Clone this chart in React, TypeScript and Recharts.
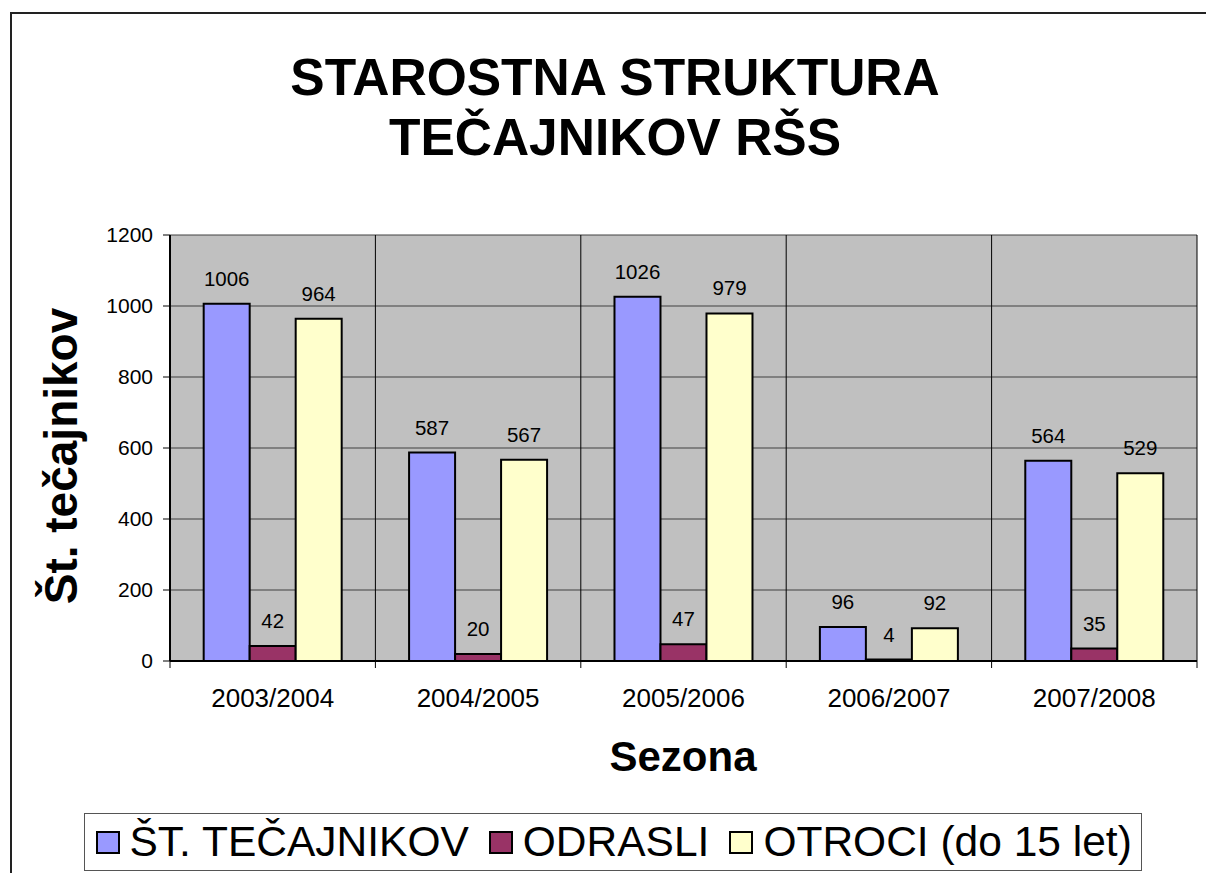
import { Bar, BarChart, CartesianGrid, LabelList, XAxis, YAxis } from "recharts";

const seasons = ["2003/2004", "2004/2005", "2005/2006", "2006/2007", "2007/2008"];
const totalTrainees = [1006, 587, 1026, 96, 564];
const adults = [42, 20, 47, 4, 35];
const children = [964, 567, 979, 92, 529];
const yTicks = [0, 200, 400, 600, 800, 1000, 1200];

const series = [
  { key: "total", name: "ŠT. TEČAJNIKOV", color: "#9999FF", values: totalTrainees },
  { key: "adults", name: "ODRASLI", color: "#993366", values: adults },
  { key: "children", name: "OTROCI (do 15 let)", color: "#FFFFCC", values: children },
];

const data = seasons.map((season, i) => {
  const row: Record<string, string | number> = { season };
  series.forEach((s) => (row[s.key] = s.values[i]));
  return row;
});

const FONT = "'Liberation Sans', Arial, sans-serif";
const W = 1206;
const H = 873;
const MARGIN = { top: 235, right: 9, bottom: 152, left: 110 };
const Y_AXIS_W = 60;
const X_TICK_SIZE = 7;
const X_TICK_GAP = 21;
const PLOT_W = W - MARGIN.left - MARGIN.right - Y_AXIS_W;

function SeasonTick(props: any) {
  const { x, y, payload, index, visibleTicksCount } = props;
  const count = visibleTicksCount || seasons.length;
  const band = (props.width || PLOT_W) / count;
  const axisY = y - X_TICK_SIZE - X_TICK_GAP;
  return (
    <g>
      <line x1={x - band / 2} x2={x - band / 2} y1={axisY} y2={axisY + X_TICK_SIZE} stroke="#000" />
      {index === count - 1 && (
        <line x1={x + band / 2} x2={x + band / 2} y1={axisY} y2={axisY + X_TICK_SIZE} stroke="#000" />
      )}
      <text x={x} y={y} dy="0.71em" textAnchor="middle" fontSize={26} fontFamily={FONT} fill="#000">
        {payload.value}
      </text>
    </g>
  );
}

export default function App() {
  return (
    <div
      style={{
        position: "absolute",
        left: 0,
        top: 0,
        width: W,
        height: H,
        overflow: "hidden",
        background: "#fff",
        fontFamily: FONT,
      }}
    >
      {/* outer chart frame, runs off the right and bottom edges */}
      <div
        style={{
          position: "absolute",
          left: 10,
          top: 12,
          width: 1400,
          height: 1000,
          border: "2px solid #222",
        }}
      />

      <BarChart
        width={W}
        height={H}
        data={data}
        margin={MARGIN}
        barCategoryGap="16.4%"
        barGap={0}
        style={{ position: "absolute", left: 0, top: 0 }}
      >
        <CartesianGrid vertical={false} fill="#C0C0C0" stroke="#404040" fillOpacity={1} />
        <CartesianGrid
          horizontal={false}
          stroke="#000"
          verticalCoordinatesGenerator={({ offset }: any) =>
            seasons.map((_, i) => offset.left + (offset.width * i) / seasons.length).concat(offset.left + offset.width)
          }
        />
        <XAxis
          dataKey="season"
          height={60}
          tickLine={false}
          tickSize={X_TICK_SIZE}
          tickMargin={X_TICK_GAP}
          axisLine={{ stroke: "#000", strokeWidth: 2 }}
          tick={<SeasonTick />}
          interval={0}
        />
        <YAxis
          width={Y_AXIS_W}
          domain={[0, 1200]}
          ticks={yTicks}
          interval={0}
          tickSize={7}
          tickMargin={10}
          tickLine={{ stroke: "#000" }}
          axisLine={{ stroke: "#000", strokeWidth: 2 }}
          tick={{ fill: "#000", fontSize: 21, fontFamily: FONT }}
        />
        {series.map((s) => (
          <Bar key={s.key} dataKey={s.key} name={s.name} fill={s.color} stroke="#000" strokeWidth={2} isAnimationActive={false}>
            <LabelList dataKey={s.key} position="top" offset={18} fill="#000" fontSize={20.5} fontFamily={FONT} />
          </Bar>
        ))}
      </BarChart>

      <svg width={W} height={H} style={{ position: "absolute", left: 0, top: 0, pointerEvents: "none" }}>
        <g fontFamily={FONT} fontWeight="bold" fill="#000">
          <text x={615} y={95} textAnchor="middle" fontSize={51.5}>
            STAROSTNA STRUKTURA
          </text>
          <text x={615} y={155} textAnchor="middle" fontSize={51.5}>
            TEČAJNIKOV RŠS
          </text>
          <text x={683} y={771} textAnchor="middle" fontSize={42}>
            Sezona
          </text>
          <text x={77} y={456} textAnchor="middle" fontSize={46} transform="rotate(-90 77 456)">
            Št. tečajnikov
          </text>
        </g>
      </svg>

      <div
        style={{
          position: "absolute",
          left: 84,
          top: 813,
          width: 1058,
          height: 58,
          border: "1.5px solid #555",
          boxSizing: "border-box",
          display: "flex",
          alignItems: "center",
          paddingLeft: 10.5,
          fontSize: 42.5,
          lineHeight: 1,
          color: "#000",
          whiteSpace: "nowrap",
        }}
      >
        {series.map((s) => (
          <div key={s.key} style={{ display: "flex", alignItems: "center", marginRight: 20, flexShrink: 0 }}>
            <span
              style={{
                width: 24,
                height: 23,
                background: s.color,
                border: "2px solid #000",
                boxSizing: "border-box",
                marginRight: 10,
                flexShrink: 0,
              }}
            />
            <span>{s.name}</span>
          </div>
        ))}
      </div>
    </div>
  );
}
